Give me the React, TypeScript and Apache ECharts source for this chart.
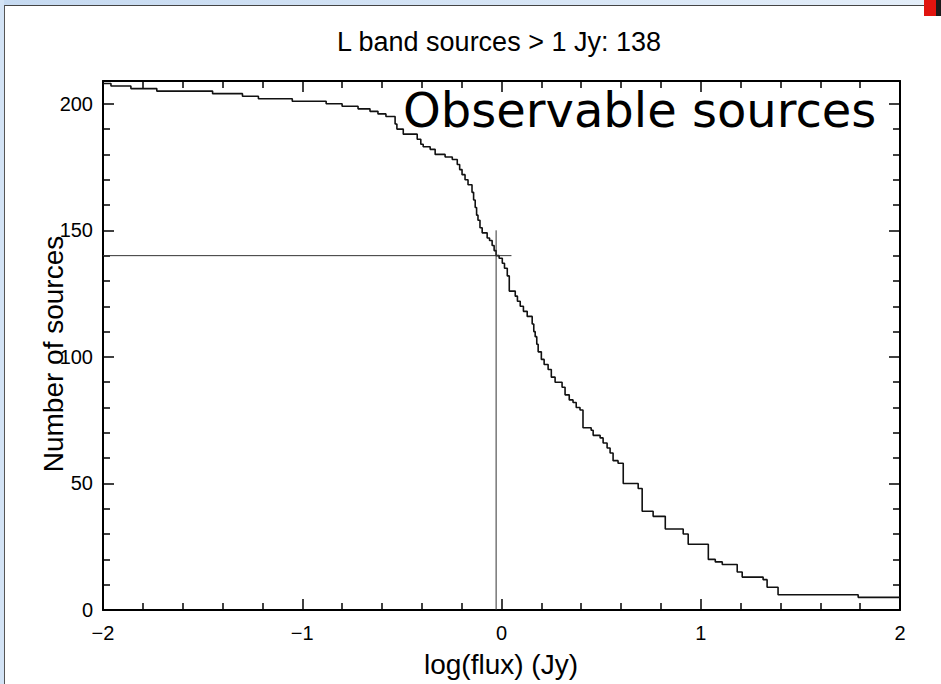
import React, { useEffect, useRef } from "react";
import * as echarts from "echarts";

const titleText = "L band sources > 1 Jy: 138";
const xName = "log(flux) (Jy)";
const yName = "Number of sources";
const annotation = "Observable sources";

const logFlux = [
  -2.0, -1.96, -1.86, -1.73, -1.45, -1.3, -1.22, -1.05, -0.88, -0.8, -0.72, -0.66, -0.62, -0.58,
  -0.534, -0.525, -0.493, -0.423, -0.405, -0.393, -0.358, -0.333, -0.283, -0.247, -0.222, -0.21,
  -0.198, -0.183, -0.168, -0.148, -0.14, -0.132, -0.125, -0.118, -0.108, -0.097, -0.072, -0.06,
  -0.047, -0.037, -0.027, -0.012, 0.004, 0.015, 0.029, 0.039, 0.069, 0.08, 0.094, 0.11, 0.129,
  0.154, 0.162, 0.169, 0.177, 0.184, 0.2, 0.214, 0.234, 0.25, 0.269, 0.304, 0.319, 0.34, 0.359,
  0.375, 0.394, 0.409, 0.45, 0.46, 0.495, 0.51, 0.53, 0.545, 0.56, 0.585, 0.611, 0.686, 0.706,
  0.761, 0.822, 0.912, 0.937, 1.038, 1.073, 1.108, 1.183, 1.208, 1.313, 1.333, 1.388, 1.79, 2.0,
];
const nSources = [
  208, 207, 206, 205, 204, 203, 202, 201, 200, 199, 198, 197, 196, 195,
  192, 190, 188, 186, 184, 183, 182, 180, 179, 178, 176, 174,
  172, 170, 168, 165, 162, 159, 156, 154, 151, 149, 147, 146,
  144, 142, 140, 139, 137, 135, 132, 126, 124, 122, 120, 118, 116,
  113, 110, 108, 105, 102, 99, 97, 95, 92, 90, 88, 85, 83, 82,
  80, 79, 72, 71, 69, 68, 66, 64, 62, 59, 58, 50, 48, 39,
  37, 32, 30, 26, 20, 19, 18, 15, 13, 12, 9, 6, 5, 5,
];

const crossX = -0.027;
const crossY = 140;
const crossXTop = 150;
const crossYEnd = 0.05;

const xTicks = [-2, -1, 0, 1, 2];
const yMajor = [0, 50, 100, 150, 200];
const yMinor = [10, 20, 30, 40, 60, 70, 80, 90, 110, 120, 130, 140, 160, 170, 180, 190];
const yMax = 209;

const FONT = "'Liberation Sans', Arial, Helvetica, sans-serif";

export default function App() {
  const ref = useRef<HTMLDivElement>(null);
  useEffect(() => {
    if (!ref.current) return;
    const chart = echarts.init(ref.current, null, { renderer: "svg" });
    const black = "#000";
    const lineStyle = { color: black, width: 2 };
    const tickStyle = { color: black, width: 1.5 };
    const fmt = (v: number) => (v < 0 ? "\u2212" + Math.abs(v) : String(v));
    const xBase = {
      type: "value",
      min: -2,
      max: 2,
      interval: 1,
      splitLine: { show: false },
      axisLine: { show: true, onZero: false, lineStyle },
      axisTick: { show: true, inside: true, length: 11, lineStyle: tickStyle },
      minorTick: { show: true, splitNumber: 5, length: 7, lineStyle: tickStyle },
    };
    const yBase = {
      type: "value",
      min: 0,
      max: yMax,
      splitLine: { show: false },
    };
    const data = logFlux.map((x, i) => [x, nSources[i]]);
    chart.setOption({
      animation: false,
      backgroundColor: "#fff",
      grid: { left: 103, right: 41, top: 81, bottom: 74, containLabel: false },
      xAxis: [
        {
          ...xBase,
          position: "bottom",
          axisLabel: {
            formatter: fmt,
            fontSize: 20,
            color: black,
            fontFamily: FONT,
            margin: 13,
            customValues: xTicks,
          },
        },
        { ...xBase, position: "top", axisLabel: { show: false } },
      ],
      yAxis: [
        {
          ...yBase,
          position: "left",
          axisLine: { show: true, onZero: false, lineStyle },
          axisTick: { show: true, inside: true, length: 11, lineStyle: tickStyle, customValues: yMajor },
          axisLabel: {
            show: true,
            fontSize: 20,
            color: black,
            fontFamily: FONT,
            margin: 10,
            customValues: yMajor,
          },
        },
        {
          ...yBase,
          position: "left",
          axisLine: { show: false, onZero: false },
          axisTick: { show: true, inside: true, length: 7, lineStyle: tickStyle, customValues: yMinor },
          axisLabel: { show: false },
        },
        {
          ...yBase,
          position: "right",
          axisLine: { show: true, onZero: false, lineStyle },
          axisTick: { show: true, inside: true, length: 11, lineStyle: tickStyle, customValues: yMajor },
          axisLabel: { show: false },
        },
        {
          ...yBase,
          position: "right",
          axisLine: { show: false, onZero: false },
          axisTick: { show: true, inside: true, length: 7, lineStyle: tickStyle, customValues: yMinor },
          axisLabel: { show: false },
        },
      ],
      series: [
        {
          type: "line",
          xAxisIndex: 0,
          yAxisIndex: 0,
          data,
          step: "end",
          symbol: "none",
          showSymbol: false,
          lineStyle: { color: "#111", width: 1.6 },
          silent: true,
        },
        {
          type: "line",
          xAxisIndex: 0,
          yAxisIndex: 0,
          data: [
            [crossX, 0],
            [crossX, crossXTop],
          ],
          symbol: "none",
          lineStyle: { color: "#333", width: 1 },
          silent: true,
        },
        {
          type: "line",
          xAxisIndex: 0,
          yAxisIndex: 0,
          data: [
            [-2, crossY],
            [crossYEnd, crossY],
          ],
          symbol: "none",
          lineStyle: { color: "#333", width: 1 },
          silent: true,
        },
      ],
      graphic: [
        {
          type: "rect",
          shape: { x: 0, y: 0, width: 941, height: 5 },
          style: {
            fill: new echarts.graphic.LinearGradient(0, 0, 1, 0, [
              { offset: 0, color: "#c6daf1" },
              { offset: 1, color: "#e4eef9" },
            ]),
          },
          silent: true,
        },
        {
          type: "line",
          shape: { x1: 4, y1: 5.5, x2: 941, y2: 5.5 },
          style: { stroke: "#444", lineWidth: 1 },
          silent: true,
        },
        {
          type: "rect",
          shape: { x: 0, y: 0, width: 4, height: 684 },
          style: { fill: "#d3e3f5" },
          silent: true,
        },
        {
          type: "line",
          shape: { x1: 4.5, y1: 5, x2: 4.5, y2: 684 },
          style: { stroke: "#555", lineWidth: 1 },
          silent: true,
        },
        {
          type: "rect",
          shape: { x: 924, y: 0, width: 13, height: 16 },
          style: { fill: "#e0140f" },
          silent: true,
        },
        {
          type: "rect",
          shape: { x: 936, y: 0, width: 5, height: 16 },
          style: { fill: "#1a1a1a" },
          silent: true,
        },
        {
          type: "text",
          x: 499,
          y: 41.5,
          style: {
            text: titleText,
            fontSize: 27,
            fontFamily: FONT,
            fill: black,
            align: "center",
            verticalAlign: "middle",
          },
          silent: true,
        },
        {
          type: "text",
          x: 501,
          y: 664,
          style: {
            text: xName,
            fontSize: 28,
            fontFamily: FONT,
            fill: black,
            align: "center",
            verticalAlign: "middle",
          },
          silent: true,
        },
        {
          type: "text",
          x: 53,
          y: 354,
          rotation: Math.PI / 2,
          style: {
            text: yName,
            fontSize: 28,
            fontFamily: FONT,
            fill: black,
            align: "center",
            verticalAlign: "middle",
          },
          silent: true,
        },
        {
          type: "text",
          x: 403,
          y: 110,
          style: {
            text: annotation,
            fontSize: 48,
            fontFamily: "'DejaVu Sans', sans-serif",
            fill: black,
            align: "left",
            verticalAlign: "middle",
          },
          silent: true,
        },
      ],
    });
    return () => chart.dispose();
  }, []);
  return (
    <div
      ref={ref}
      style={{ position: "absolute", left: 0, top: 0, width: 941, height: 684, background: "#fff" }}
    />
  );
}
